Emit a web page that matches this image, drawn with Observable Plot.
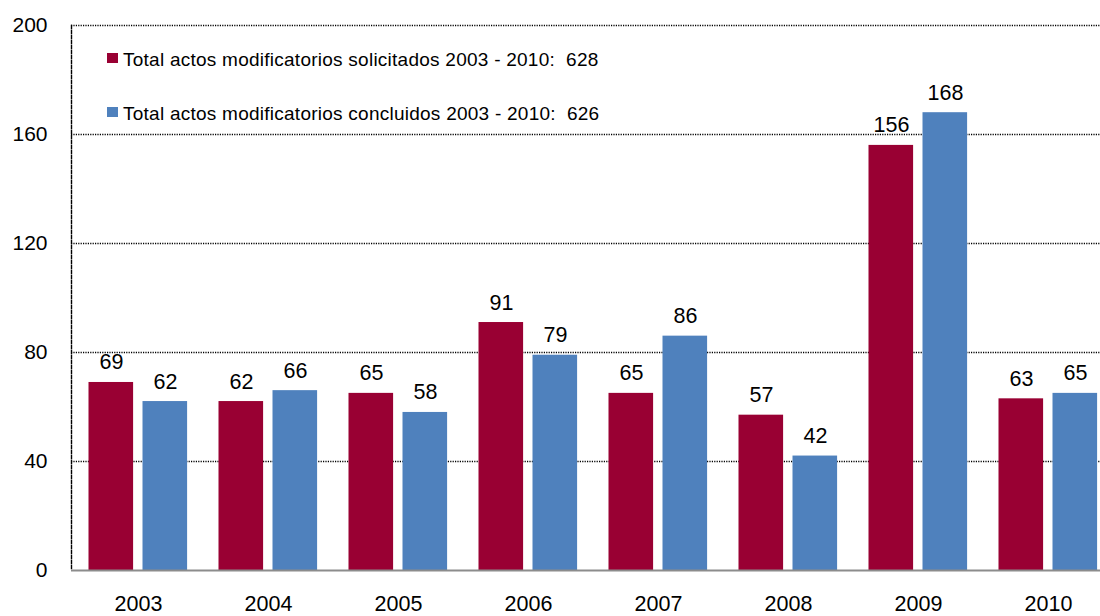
<!DOCTYPE html>
<html>
<head>
<meta charset="utf-8">
<script src="https://cdn.jsdelivr.net/npm/d3@7"></script>
<script src="https://cdn.jsdelivr.net/npm/@observablehq/plot@0.6"></script>
<style>
  html, body { margin: 0; padding: 0; background: #fff; overflow: hidden; }
  #wrap { position: relative; width: 1100px; height: 616px; font-family: "Liberation Sans", Arial, sans-serif; }
  .lg-sw { position: absolute; width: 10.5px; height: 9.5px; }
  .lg-tx { position: absolute; font-size: 19px; line-height: 19px; letter-spacing: 0.25px; white-space: pre; color: #000; }
</style>
</head>
<body>
<div id="wrap"></div>
<script>
// ---- data ----
const years = ["2003", "2004", "2005", "2006", "2007", "2008", "2009", "2010"];
const solicitados = [69, 62, 65, 91, 65, 57, 156, 63];
const concluidos = [62, 66, 58, 79, 86, 42, 168, 65];
const yTicks = [0, 40, 80, 120, 160, 200];
const gridTicks = [40, 80, 120, 160, 200];
const legendLabels = [
  "Total actos modificatorios solicitados 2003 - 2010:  628",
  "Total actos modificatorios concluidos 2003 - 2010:  626"
];
const colors = ["#990033", "#4F81BD"];

const rows = years.map((y, i) => ({year: y, sol: solicitados[i], con: concluidos[i]}));

const font = "'Liberation Sans', Arial, sans-serif";

const chart = Plot.plot({
  width: 1100,
  height: 616,
  marginLeft: 71,
  marginRight: 0,
  marginTop: 25,
  marginBottom: 46,
  style: {fontFamily: font, fontSize: "21px", color: "#000", background: "#fff", overflow: "hidden"},
  x: {domain: years, range: [71, 1114], padding: 0},
  y: {domain: [0, 200]},
  marks: [
    Plot.ruleY(gridTicks, {stroke: "#000", strokeWidth: 1.5, strokeDasharray: "1.2,1.2"}),
    Plot.frame({anchor: "left", stroke: "#000", strokeWidth: 1.4, strokeDasharray: "3,2"}),
    Plot.barY(rows, {x: "year", y: "sol", fill: colors[0], insetLeft: 15.5, insetRight: 69.9}),
    Plot.barY(rows, {x: "year", y: "con", fill: colors[1], insetLeft: 69.5, insetRight: 15.9}),
    Plot.ruleY([0], {stroke: "#8c8c8c", strokeWidth: 2}),
    Plot.text(rows, {x: "year", y: "sol", text: d => String(d.sol), dx: -27, dy: -13, lineAnchor: "bottom", fontSize: 21.5, fill: "#000"}),
    Plot.text(rows, {x: "year", y: "con", text: d => String(d.con), dx: 27, dy: -13, lineAnchor: "bottom", fontSize: 21.5, fill: "#000"}),
    Plot.axisY({ticks: yTicks, tickSize: 0, tickPadding: 24, fontSize: 21, label: null}),
    Plot.axisX({tickSize: 0, tickPadding: 25, fontSize: 21.5, label: null})
  ]
});

const wrap = document.getElementById("wrap");
wrap.appendChild(chart);

// legend (HTML overlay inside the plot area)
const legendTops = [50, 104];
legendLabels.forEach((t, i) => {
  const sw = document.createElement("div");
  sw.className = "lg-sw";
  sw.style.background = colors[i];
  sw.style.left = "107px";
  sw.style.top = (legendTops[i] + 3.3) + "px";
  wrap.appendChild(sw);
  const tx = document.createElement("div");
  tx.className = "lg-tx";
  tx.style.left = "123px";
  tx.style.top = legendTops[i] + "px";
  tx.textContent = t;
  wrap.appendChild(tx);
});
chart.style.position = "absolute";
chart.style.left = "0";
chart.style.top = "0";
</script>
</body>
</html>
